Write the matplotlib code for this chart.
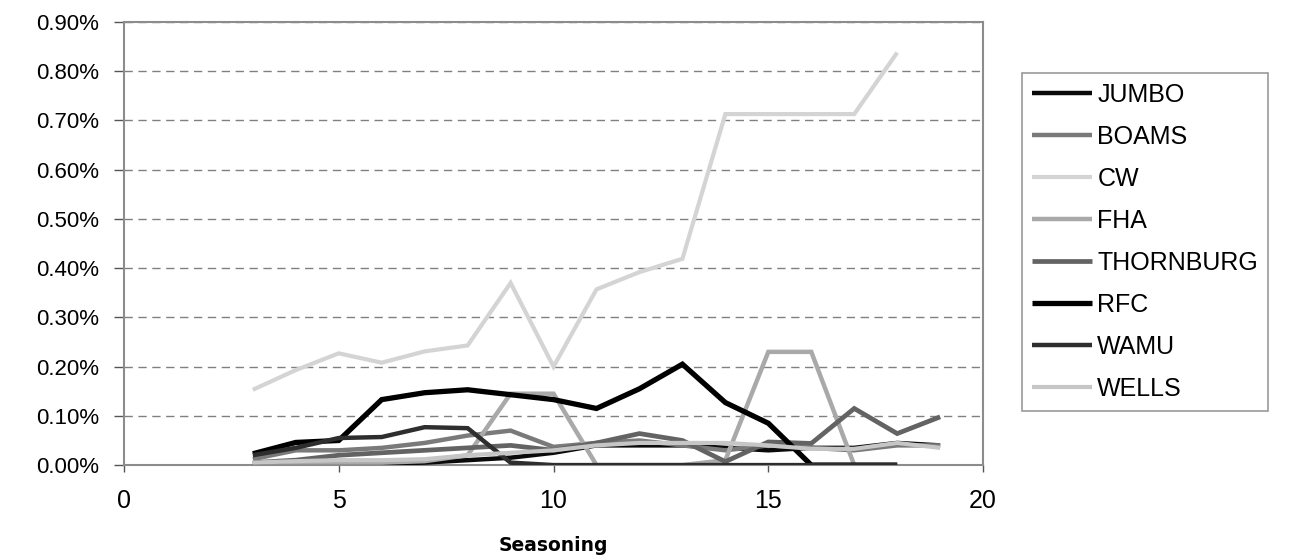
import matplotlib
matplotlib.use("Agg")
import matplotlib.pyplot as plt
from matplotlib.ticker import FuncFormatter, MultipleLocator

# ---- data (percent) ----
seasoning = [3, 4, 5, 6, 7, 8, 9, 10, 11, 12, 13, 14, 15, 16, 17, 18, 19]

jumbo = [0.003, 0.003, 0.003, 0.003, 0.005, 0.010, 0.015, 0.025, 0.040, 0.040, 0.040, 0.035, 0.030, 0.035, 0.035, 0.045, 0.040]
boams = [0.012, 0.030, 0.030, 0.035, 0.045, 0.060, 0.070, 0.037, 0.045, 0.050, 0.040, 0.030, 0.040, 0.035, 0.030, 0.040, 0.040]
cw = [0.153, 0.193, 0.227, 0.208, 0.231, 0.243, 0.370, 0.200, 0.357, 0.392, 0.419, 0.713, 0.713, 0.713, 0.713, 0.838]
fha = [0.005, 0.005, 0.005, 0.005, 0.008, 0.020, 0.145, 0.145, 0.000, 0.000, 0.000, 0.010, 0.230, 0.230, 0.000]
thornburg = [0.005, 0.010, 0.020, 0.025, 0.030, 0.035, 0.040, 0.030, 0.045, 0.064, 0.050, 0.007, 0.047, 0.044, 0.115, 0.064, 0.098]
rfc = [0.023, 0.046, 0.050, 0.133, 0.147, 0.153, 0.143, 0.133, 0.115, 0.155, 0.205, 0.127, 0.085, 0.000, 0.000, 0.000]
wamu = [0.020, 0.035, 0.055, 0.057, 0.077, 0.075, 0.005, 0.000, 0.000, 0.000, 0.000, 0.000, 0.000, 0.000, 0.000, 0.000]
wells = [0.005, 0.008, 0.010, 0.010, 0.012, 0.020, 0.025, 0.030, 0.040, 0.045, 0.045, 0.045, 0.040, 0.033, 0.033, 0.045, 0.035]

series_names = ["JUMBO", "BOAMS", "CW", "FHA", "THORNBURG", "RFC", "WAMU", "WELLS"]
series_values = [jumbo, boams, cw, fha, thornburg, rfc, wamu, wells]
series_colors = ["#0a0a0a", "#7a7a7a", "#d4d4d4", "#a9a9a9", "#636363", "#000000", "#2e2e2e", "#c6c6c6"]
series_widths = [3.2, 3.2, 3.0, 3.2, 3.4, 3.8, 3.2, 3.0]

plt.rcParams['font.family'] = ['Liberation Sans', 'DejaVu Sans']

fig = plt.figure(figsize=(12.9, 5.59), dpi=100)
ax = fig.add_axes([0.0961, 0.168, 0.666, 0.7926])

for name, vals, col, lw in zip(series_names, series_values, series_colors, series_widths):
    ax.plot(seasoning[:len(vals)], vals, color=col, lw=lw, label=name,
            solid_joinstyle='miter', solid_capstyle='butt', zorder=3)

ax.set_xlim(0, 20)
ax.set_ylim(0, 0.90)
ax.xaxis.set_major_locator(MultipleLocator(5))
ax.yaxis.set_major_locator(MultipleLocator(0.10))
ax.yaxis.set_major_formatter(FuncFormatter(lambda v, p: f"{v:.2f}%"))

ax.yaxis.grid(True, color="#808080", linestyle=(0, (6, 4)), linewidth=1.0, zorder=1)
ax.set_axisbelow(True)

for side in ["top", "right", "left", "bottom"]:
    ax.spines[side].set_color("#8c8c8c")
    ax.spines[side].set_linewidth(1.5)

ax.tick_params(axis='y', direction='out', length=7, width=1, color="#555555",
               labelsize=16, pad=11)
ax.tick_params(axis='x', direction='out', length=5, width=1, color="#555555",
               labelsize=18, pad=12)

ax.set_xlabel("Seasoning", fontsize=13.5, fontweight='bold', labelpad=17,
              family=['DejaVu Sans'])

leg = ax.legend(loc='upper left', bbox_to_anchor=(0.7925, 0.869),
                bbox_transform=fig.transFigure, borderaxespad=0,
                fontsize=18, frameon=True, fancybox=False, edgecolor="#808080",
                handlelength=2.4, handletextpad=0.2, labelspacing=0.72,
                borderpad=0.4)
leg.get_frame().set_linewidth(1.2)

fig.savefig("out.png", dpi=100)
